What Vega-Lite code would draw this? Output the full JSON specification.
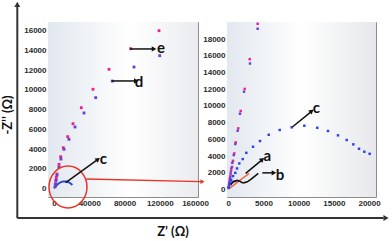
{
  "$schema": "https://vega.github.io/schema/vega-lite/v6.json",
  "padding": {"left": 1, "top": 1, "right": 0, "bottom": 0},
  "background": "white",
  "spacing": 29,
  "bounds": "flush",
  "config": {
    "view": {"stroke": "#8c8c8c", "strokeWidth": 1},
    "axis": {"labelFont": "Liberation Sans", "labelFontSize": 8, "labelFontWeight": "bold", "labelColor": "#2a2a2a", "domain": false, "grid": false, "tickColor": "#9a9a9a", "tickSize": -3, "labelPadding": 5}
  },
  "datasets": {
    "leftPts": [
      {"s": "e", "x": 119150, "y": 16000}, {"s": "e", "x": 87040, "y": 14180}, {"s": "e", "x": 62410, "y": 12090}, {"s": "e", "x": 44260, "y": 10070}, {"s": "e", "x": 30980, "y": 8200}, {"s": "e", "x": 21560, "y": 6580}, {"s": "e", "x": 15550, "y": 5270}, {"s": "e", "x": 10550, "y": 4150}, {"s": "e", "x": 7600, "y": 3240}, {"s": "e", "x": 5670, "y": 2470}, {"s": "e", "x": 3400, "y": 1490}, {"s": "e", "x": 2600, "y": 1150}, {"s": "e", "x": 2000, "y": 800}, {"s": "e", "x": 1500, "y": 450},
      {"s": "d", "x": 119950, "y": 13470}, {"s": "d", "x": 90780, "y": 12320}, {"s": "d", "x": 66160, "y": 10900}, {"s": "d", "x": 47320, "y": 9220}, {"s": "d", "x": 34040, "y": 7670}, {"s": "d", "x": 23830, "y": 6250}, {"s": "d", "x": 17020, "y": 5000}, {"s": "d", "x": 11350, "y": 3990}, {"s": "d", "x": 7900, "y": 3000}, {"s": "d", "x": 5670, "y": 2200}, {"s": "d", "x": 3400, "y": 1380}, {"s": "d", "x": 2500, "y": 900}, {"s": "d", "x": 1800, "y": 500}, {"s": "d", "x": 1200, "y": 200}
    ],
    "leftC": [
      {"x": 0, "y": 50}, {"x": 1500, "y": 200}, {"x": 3500, "y": 400}, {"x": 6000, "y": 580}, {"x": 8500, "y": 690}, {"x": 11000, "y": 740}, {"x": 13500, "y": 740}, {"x": 16000, "y": 680}, {"x": 18000, "y": 580}, {"x": 20000, "y": 450}, {"x": 20800, "y": 380}
    ],
    "rightPts": [
      {"s": "e", "x": 4170, "y": 19840}, {"s": "e", "x": 3040, "y": 15600}, {"s": "e", "x": 2330, "y": 12040}, {"s": "e", "x": 1760, "y": 9400}, {"s": "e", "x": 1420, "y": 7320}, {"s": "e", "x": 1050, "y": 5640}, {"s": "e", "x": 850, "y": 4320}, {"s": "e", "x": 670, "y": 3430}, {"s": "e", "x": 530, "y": 2710}, {"s": "e", "x": 380, "y": 2230}, {"s": "e", "x": 290, "y": 1630}, {"s": "e", "x": 200, "y": 1150}, {"s": "e", "x": 120, "y": 700}, {"s": "e", "x": 60, "y": 300},
      {"s": "d", "x": 4170, "y": 19240}, {"s": "d", "x": 3080, "y": 15080}, {"s": "d", "x": 2230, "y": 11710}, {"s": "d", "x": 1660, "y": 9070}, {"s": "d", "x": 1330, "y": 7040}, {"s": "d", "x": 1000, "y": 5440}, {"s": "d", "x": 770, "y": 4120}, {"s": "d", "x": 570, "y": 3200}, {"s": "d", "x": 430, "y": 2520}, {"s": "d", "x": 340, "y": 1920}, {"s": "d", "x": 250, "y": 1400}, {"s": "d", "x": 170, "y": 900}, {"s": "d", "x": 100, "y": 500}, {"s": "d", "x": 40, "y": 200},
      {"s": "c", "x": 60, "y": 250}, {"s": "c", "x": 200, "y": 700}, {"s": "c", "x": 400, "y": 1150}, {"s": "c", "x": 670, "y": 1600}, {"s": "c", "x": 990, "y": 1990}, {"s": "c", "x": 1240, "y": 2520}, {"s": "c", "x": 1560, "y": 3120}, {"s": "c", "x": 2050, "y": 3640}, {"s": "c", "x": 2560, "y": 4390}, {"s": "c", "x": 3510, "y": 5110}, {"s": "c", "x": 4500, "y": 5800}, {"s": "c", "x": 5740, "y": 6550}, {"s": "c", "x": 7300, "y": 7120}, {"s": "c", "x": 9000, "y": 7440}, {"s": "c", "x": 10800, "y": 7630}, {"s": "c", "x": 12640, "y": 7390}, {"s": "c", "x": 14160, "y": 7000}, {"s": "c", "x": 15580, "y": 6480}, {"s": "c", "x": 16820, "y": 5920}, {"s": "c", "x": 17760, "y": 5400}, {"s": "c", "x": 18570, "y": 4870}, {"s": "c", "x": 19320, "y": 4520}, {"s": "c", "x": 20080, "y": 4270}
    ],
    "rightLines": [
      {"s": "a", "x": 0, "y": 50}, {"s": "a", "x": 500, "y": 350}, {"s": "a", "x": 1000, "y": 680}, {"s": "a", "x": 1500, "y": 1000}, {"s": "a", "x": 2000, "y": 1330}, {"s": "a", "x": 2500, "y": 1620}, {"s": "a", "x": 2940, "y": 1920},
      {"s": "c0", "x": 0, "y": 100}, {"s": "c0", "x": 150, "y": 500}, {"s": "c0", "x": 400, "y": 850}, {"s": "c0", "x": 800, "y": 1000}, {"s": "c0", "x": 1200, "y": 950},
      {"s": "b", "x": 300, "y": 500}, {"s": "b", "x": 570, "y": 800}, {"s": "b", "x": 900, "y": 1000}, {"s": "b", "x": 1280, "y": 1100}, {"s": "b", "x": 1600, "y": 1000}, {"s": "b", "x": 1990, "y": 800}, {"s": "b", "x": 2300, "y": 820}, {"s": "b", "x": 2700, "y": 920}, {"s": "b", "x": 3200, "y": 1200}, {"s": "b", "x": 3650, "y": 1520}, {"s": "b", "x": 4260, "y": 1920}
    ]
  },
  "hconcat": [
    {
      "width": 150,
      "height": 175,
      "encoding": {
        "x": {"field": "x", "type": "quantitative", "scale": {"domain": [-6809, 163400], "nice": false, "zero": false}, "axis": {"values": [0, 40000, 80000, 120000, 160000], "title": null, "format": "d"}},
        "y": {"field": "y", "type": "quantitative", "scale": {"domain": [-840, 16880], "nice": false, "zero": false}, "axis": {"values": [0, 2000, 4000, 6000, 8000, 10000, 12000, 14000, 16000], "title": null, "format": "d"}}
      },
      "layer": [
        {
          "data": {"values": [{}]},
          "mark": {"type": "rect", "fill": {"gradient": "linear", "stops": [{"offset": 0, "color": "#e2e8ef"}, {"offset": 0.55, "color": "#ffffff"}, {"offset": 1, "color": "#e9ebee"}]}},
          "encoding": {"x": {"value": 0}, "x2": {"value": 150}, "y": {"value": 0}, "y2": {"value": 175}}
        },
        {
          "data": {"name": "leftC"},
          "mark": {"type": "line", "color": "#2445e0", "strokeWidth": 2},
          "encoding": {}
        },
        {
          "data": {"name": "leftPts"},
          "mark": {"type": "point", "shape": "square", "filled": true, "size": 8, "opacity": 1},
          "encoding": {"color": {"field": "s", "type": "nominal", "scale": {"domain": ["e", "d"], "range": ["#ee1f8e", "#6a3fd2"]}, "legend": null}}
        },
        {
          "data": {"values": [{"x": 15890, "y": 172}]},
          "mark": {"type": "point", "shape": "M -0.905 0 A 0.905 1 0 1 1 0.905 0 A 0.905 1 0 1 1 -0.905 0 Z", "filled": false, "size": 1764, "color": "#e8332a", "strokeWidth": 1.5, "opacity": 1},
          "encoding": {}
        },
        {
          "data": {"values": [{"x": 36650, "y": 983, "x2": 167000, "y2": 709}]},
          "mark": {"type": "rule", "color": "#e8332a", "strokeWidth": 1.3},
          "encoding": {"x2": {"field": "x2"}, "y2": {"field": "y2"}}
        },
        {
          "data": {"values": [{"x": 168500, "y": 709}]},
          "mark": {"type": "point", "shape": "triangle-right", "filled": true, "size": 22, "color": "#e8332a", "opacity": 1},
          "encoding": {}
        },
        {
          "data": {"values": [{"x": 86250, "y": 14150, "x2": 112500, "y2": 14150}, {"x": 65480, "y": 10910, "x2": 92400, "y2": 10910}, {"x": 13280, "y": 608, "x2": 49000, "y2": 2920}]},
          "mark": {"type": "rule", "color": "#111", "strokeWidth": 1.5},
          "encoding": {"x2": {"field": "x2"}, "y2": {"field": "y2"}}
        },
        {
          "data": {"values": [{"x": 113500, "y": 14150}, {"x": 93400, "y": 10910}]},
          "mark": {"type": "point", "shape": "triangle-right", "filled": true, "size": 28, "color": "#111", "opacity": 1},
          "encoding": {}
        },
        {
          "data": {"values": [{"x": 49930, "y": 2980}]},
          "mark": {"type": "point", "shape": "triangle-right", "filled": true, "size": 28, "color": "#111", "opacity": 1},
          "encoding": {"angle": {"value": 324}}
        },
        {
          "data": {"values": [{"x": 121400, "y": 14250, "t": "e"}, {"x": 96460, "y": 10840, "t": "d"}, {"x": 55950, "y": 2980, "t": "c"}]},
          "mark": {"type": "text", "font": "Lato", "fontSize": 15, "fontWeight": "bold", "align": "center", "baseline": "middle", "color": "#111"},
          "encoding": {"text": {"field": "t"}}
        },
        {
          "data": {"values": [{"x": -41650, "y": -2968, "x2": -41650, "y2": 18560}, {"x": -41650, "y": -2968, "x2": 374000, "y2": -2968}]},
          "mark": {"type": "rule", "color": "#333", "strokeWidth": 2},
          "encoding": {"x2": {"field": "x2"}, "y2": {"field": "y2"}}
        },
        {
          "data": {"values": [{"x": -41650, "y": 18660}]},
          "mark": {"type": "point", "shape": "triangle-up", "filled": true, "size": 36, "color": "#333", "opacity": 1},
          "encoding": {}
        },
        {
          "data": {"values": [{"x": 376750, "y": -2968}]},
          "mark": {"type": "point", "shape": "triangle-right", "filled": true, "size": 36, "color": "#333", "opacity": 1},
          "encoding": {}
        },
        {
          "data": {"values": [{"x": -52200, "y": 7466, "t": "-Z’’ (Ω)"}]},
          "mark": {"type": "text", "font": "Lato", "fontSize": 13, "fontWeight": "bold", "align": "center", "baseline": "middle", "angle": 270, "color": "#111"},
          "encoding": {"text": {"field": "t"}}
        },
        {
          "data": {"values": [{"x": 135040, "y": -4386, "t": "Z’ (Ω)"}]},
          "mark": {"type": "text", "font": "Lato", "fontSize": 13, "fontWeight": "bold", "align": "center", "baseline": "middle", "color": "#111"},
          "encoding": {"text": {"field": "t"}}
        }
      ]
    },
    {
      "width": 149,
      "height": 175,
      "resolve": {"scale": {"color": "independent"}},
      "encoding": {
        "x": {"field": "x", "type": "quantitative", "scale": {"domain": [-185, 20980], "nice": false, "zero": false}, "axis": {"values": [0, 5000, 10000, 15000, 20000], "title": null, "format": "d"}},
        "y": {"field": "y", "type": "quantitative", "scale": {"domain": [-900, 20050], "nice": false, "zero": false}, "axis": {"values": [0, 2000, 4000, 6000, 8000, 10000, 12000, 14000, 16000, 18000], "title": null, "format": "d"}}
      },
      "layer": [
        {
          "data": {"values": [{}]},
          "mark": {"type": "rect", "fill": {"gradient": "linear", "stops": [{"offset": 0, "color": "#e2e8ef"}, {"offset": 0.5, "color": "#ffffff"}, {"offset": 1, "color": "#e6e8eb"}]}},
          "encoding": {"x": {"value": 0}, "x2": {"value": 149}, "y": {"value": 0}, "y2": {"value": 175}}
        },
        {
          "data": {"name": "rightLines"},
          "mark": {"type": "line", "strokeWidth": 1.6},
          "encoding": {"detail": {"field": "s"}, "color": {"field": "s", "type": "nominal", "scale": {"domain": ["a", "b", "c0"], "range": ["#f26b3a", "#111111", "#2445e0"]}, "legend": null}}
        },
        {
          "data": {"name": "rightPts"},
          "mark": {"type": "point", "shape": "square", "filled": true, "size": 6, "opacity": 1},
          "encoding": {"color": {"field": "s", "type": "nominal", "scale": {"domain": ["e", "d", "c"], "range": ["#ee1f8e", "#6a3fd2", "#2a3ff0"]}, "legend": null}}
        },
        {
          "data": {"values": [{"x": 9090, "y": 7476, "x2": 11700, "y2": 9270}, {"x": 2470, "y": 1920, "x2": 4700, "y2": 3490}, {"x": 4830, "y": 1990, "x2": 6300, "y2": 1990}]},
          "mark": {"type": "rule", "color": "#111", "strokeWidth": 1.5},
          "encoding": {"x2": {"field": "x2"}, "y2": {"field": "y2"}}
        },
        {
          "data": {"values": [{"x": 11850, "y": 9400}, {"x": 4830, "y": 3600}]},
          "mark": {"type": "point", "shape": "triangle-right", "filled": true, "size": 28, "color": "#111", "opacity": 1},
          "encoding": {"angle": {"value": 320}}
        },
        {
          "data": {"values": [{"x": 6490, "y": 1990}]},
          "mark": {"type": "point", "shape": "triangle-right", "filled": true, "size": 28, "color": "#111", "opacity": 1},
          "encoding": {}
        },
        {
          "data": {"values": [{"x": 12500, "y": 9720, "t": "c"}, {"x": 5540, "y": 4000, "t": "a"}, {"x": 7340, "y": 1716, "t": "b"}]},
          "mark": {"type": "text", "font": "Lato", "fontSize": 15, "fontWeight": "bold", "align": "center", "baseline": "middle", "color": "#111"},
          "encoding": {"text": {"field": "t"}}
        }
      ]
    }
  ]
}
